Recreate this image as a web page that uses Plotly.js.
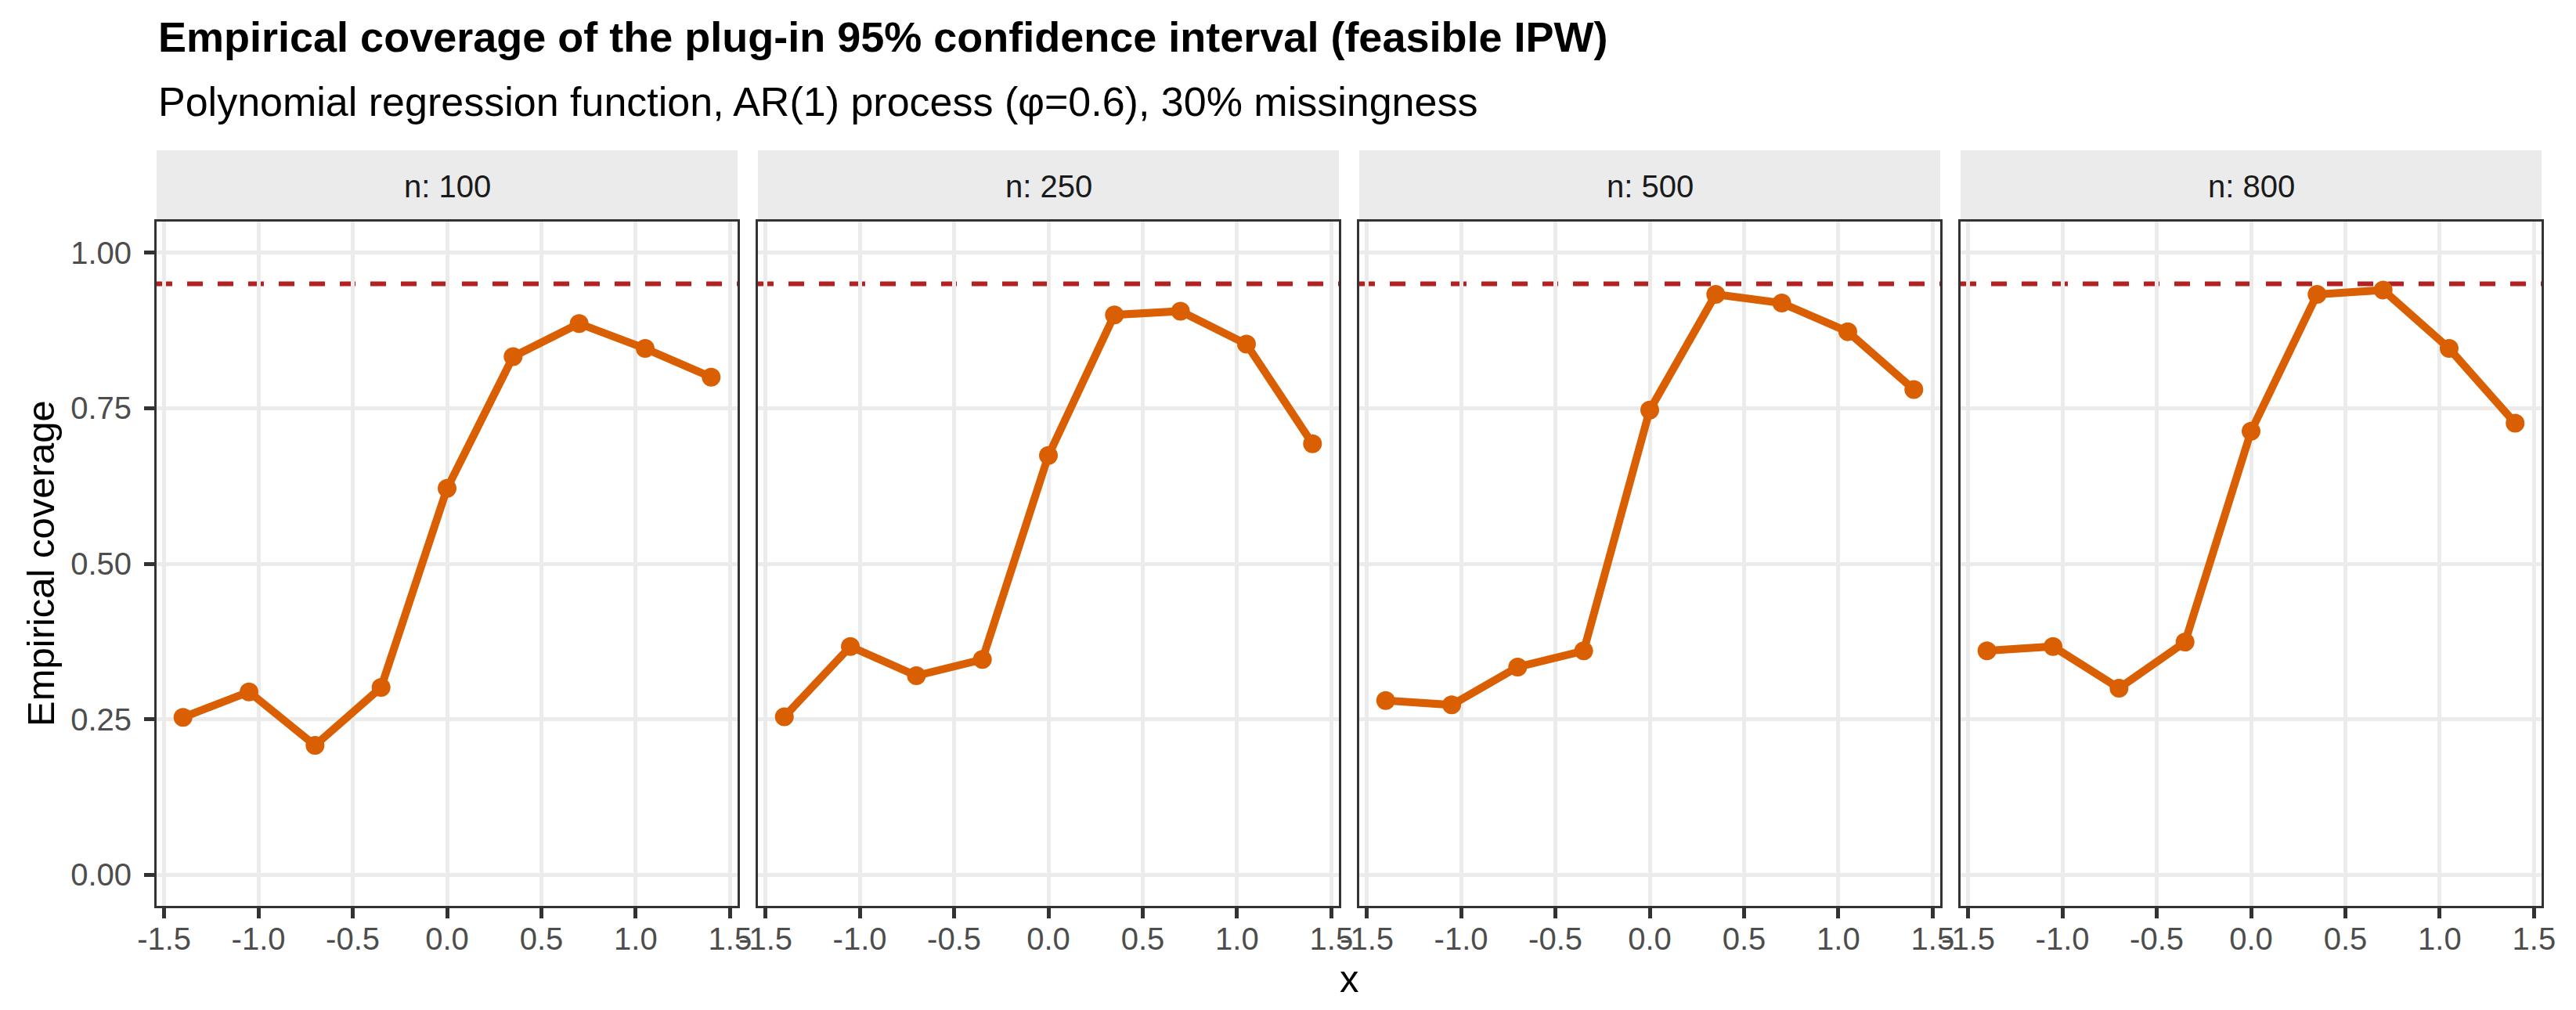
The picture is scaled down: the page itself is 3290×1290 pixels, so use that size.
<!DOCTYPE html>
<html>
<head>
<meta charset="utf-8">
<script src="https://cdn.plot.ly/plotly-3.0.1.min.js"></script>
<style>
  html, body { margin: 0; padding: 0; background: #fff; }
  #chart { width: 3290px; height: 1290px; }
</style>
</head>
<body>
<div id="chart"></div>
<script>
// ── data ────────────────────────────────────────────────
const X_VALUES = [-1.4, -1.05, -0.7, -0.35, 0, 0.35, 0.7, 1.05, 1.4];
const N_LEVELS = [100, 250, 500, 800];
const COVERAGE_N100 = [0.253, 0.294, 0.208, 0.301, 0.621, 0.833, 0.886, 0.846, 0.800];
const COVERAGE_N250 = [0.254, 0.367, 0.320, 0.346, 0.674, 0.900, 0.906, 0.853, 0.693];
const COVERAGE_N500 = [0.280, 0.273, 0.334, 0.360, 0.747, 0.933, 0.919, 0.873, 0.780];
const COVERAGE_N800 = [0.360, 0.367, 0.300, 0.374, 0.713, 0.933, 0.940, 0.846, 0.726];
const NOMINAL_LEVEL = 0.95;
const X_TICKS = [-1.5, -1.0, -0.5, 0.0, 0.5, 1.0, 1.5];
const Y_TICKS = [0, 0.25, 0.5, 0.75, 1];

const TITLE    = 'Empirical coverage of the plug-in 95% confidence interval (feasible IPW)';
const SUBTITLE = 'Polynomial regression function, AR(1) process (φ=0.6), 30% missingness';
const X_LABEL  = 'x';
const Y_LABEL  = 'Empirical coverage';

// ── style ───────────────────────────────────────────────
const FONT      = "'Liberation Sans', Arial, Helvetica, sans-serif";
const LINE_COL  = '#D95F02';
const REF_COL   = '#B22222';
const GRID_COL  = '#EBEBEB';
const BORDER    = '#333333';

const W = 3290, H = 1290;
const M = { l: 200, r: 44, t: 283, b: 133 };
const plotW = W - M.l - M.r;
const plotH = H - M.t - M.b;
const PANEL_W = 742, GAP = 26, STRIP_H = 91;
const X_RANGE = [-1.54, 1.54];

const series = [COVERAGE_N100, COVERAGE_N250, COVERAGE_N500, COVERAGE_N800];

const domains = N_LEVELS.map((_, i) => {
  const x0 = i * (PANEL_W + GAP);
  return [x0 / plotW, Math.min(1, (x0 + PANEL_W) / plotW)];
});

const axisId = (p, i) => (i === 0 ? p : p + (i + 1));

const traces = series.map((ys, i) => ({
  type: 'scatter', mode: 'lines+markers',
  x: X_VALUES, y: ys,
  xaxis: axisId('x', i), yaxis: axisId('y', i),
  line: { color: LINE_COL, width: 10 },
  marker: { color: LINE_COL, size: 24 },
  showlegend: false,
  hoverinfo: 'skip',
}));

function xAxis(i) {
  return {
    domain: domains[i],
    anchor: axisId('y', i),
    range: X_RANGE,
    tickvals: X_TICKS,
    ticktext: X_TICKS.map(v => v.toFixed(1)),
    ticks: 'outside', ticklen: 13, tickwidth: 5, tickcolor: BORDER,
    ticklabelstandoff: -8,
    tickfont: { family: FONT, size: 40, color: '#4D4D4D' },
    showgrid: true, gridcolor: GRID_COL, gridwidth: 5,
    zeroline: false,
    showline: true, mirror: true, linecolor: BORDER, linewidth: 3,
    fixedrange: true,
  };
}

function yAxis(i) {
  return {
    domain: [0, 1],
    anchor: axisId('x', i),
    range: [-0.05, 1.05],
    tickvals: Y_TICKS,
    tickformat: '.2f',
    ticks: i === 0 ? 'outside' : '',
    ticklen: 13, tickwidth: 5, tickcolor: BORDER,
    ticklabelstandoff: 8,
    showticklabels: i === 0,
    tickfont: { family: FONT, size: 40, color: '#4D4D4D' },
    showgrid: true, gridcolor: GRID_COL, gridwidth: 5,
    zeroline: false,
    showline: true, mirror: true, linecolor: BORDER, linewidth: 3,
    fixedrange: true,
  };
}

const shapes = [];
const annotations = [];

N_LEVELS.forEach((n, i) => {
  // strip background
  shapes.push({
    type: 'rect', xref: 'paper', yref: 'paper',
    x0: domains[i][0], x1: domains[i][1],
    y0: 1 + 1 / plotH, y1: 1 + STRIP_H / plotH,
    fillcolor: GRID_COL, line: { width: 0 }, layer: 'below',
  });
  // nominal 95% line
  shapes.push({
    type: 'line', xref: axisId('x', i), yref: axisId('y', i),
    x0: X_RANGE[0], x1: X_RANGE[1], y0: NOMINAL_LEVEL, y1: NOMINAL_LEVEL,
    line: { color: REF_COL, width: 6, dash: '20px,19px' },
    layer: 'below',
  });
  annotations.push({
    xref: 'paper', yref: 'paper',
    x: (domains[i][0] + domains[i][1]) / 2,
    y: 1 + (STRIP_H / 2) / plotH,
    xanchor: 'center', yanchor: 'middle',
    text: 'n: ' + n, showarrow: false,
    font: { family: FONT, size: 40, color: '#1A1A1A' },
  });
});

annotations.push(
  {
    xref: 'paper', yref: 'paper', x: 0, y: 1 + (283 - 47) / plotH,
    xanchor: 'left', yanchor: 'middle', showarrow: false,
    text: '<b>' + TITLE + '</b>',
    font: { family: FONT, size: 54, color: '#000' },
  },
  {
    xref: 'paper', yref: 'paper', x: 0, y: 1 + (283 - 130) / plotH,
    xanchor: 'left', yanchor: 'middle', showarrow: false,
    text: SUBTITLE,
    font: { family: FONT, size: 52, color: '#000' },
  },
  {
    xref: 'paper', yref: 'paper', x: (52 - M.l) / plotW, y: 0.5,
    xanchor: 'center', yanchor: 'middle', showarrow: false, textangle: -90,
    text: Y_LABEL,
    font: { family: FONT, size: 49, color: '#000' },
  },
  {
    xref: 'paper', yref: 'paper', x: 0.5, y: -(1250 - (H - M.b)) / plotH,
    xanchor: 'center', yanchor: 'middle', showarrow: false,
    text: X_LABEL,
    font: { family: FONT, size: 49, color: '#000' },
  }
);

const layout = {
  width: W, height: H,
  margin: M,
  paper_bgcolor: '#fff', plot_bgcolor: '#fff',
  font: { family: FONT },
  shapes, annotations,
};
N_LEVELS.forEach((_, i) => {
  const k = i === 0 ? '' : String(i + 1);
  layout['xaxis' + k] = xAxis(i);
  layout['yaxis' + k] = yAxis(i);
});

Plotly.newPlot('chart', traces, layout, { displayModeBar: false, responsive: false });
</script>
</body>
</html>
